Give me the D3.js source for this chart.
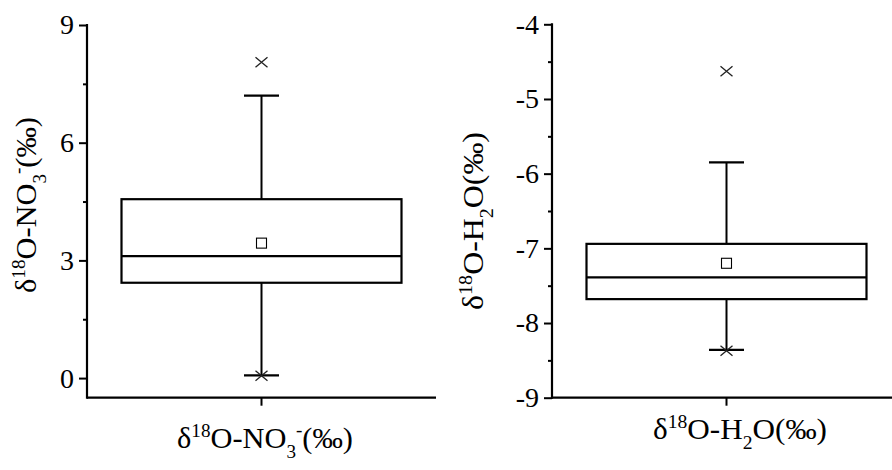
<!DOCTYPE html>
<html><head><meta charset="utf-8">
<script src="https://cdn.jsdelivr.net/npm/d3@7"></script>
</head><body style="margin:0;padding:0;background:#fff;font-family:'Liberation Serif'">
<svg id="c" width="892" height="470" style="display:block;font-family:'Liberation Serif'"></svg>
<script>
// Data
const panelNames = ["NO3", "H2O"];
const categories = [["δ18O-NO3-"], ["δ18O-H2O"]];
const boxQ1 = [2.43, -7.68];
const boxMedian = [3.11, -7.39];
const boxQ3 = [4.56, -6.94];
const whiskerLow = [0.07, -8.36];
const whiskerHigh = [7.2, -5.85];
const means = [3.44, -7.2];
const extremeMarks = [[8.05, 0.06], [-4.63, -8.37]];
const yDomains = [[-0.5, 9], [-9, -4]];
const yMajorTicks = [[0, 3, 6, 9], [-9, -8, -7, -6, -5, -4]];
const yMinorTicks = [[1.5, 4.5, 7.5], [-8.5, -7.5, -6.5, -5.5, -4.5]];

const svg = d3.select("#c");
const FF = '"Liberation Serif"';

const layout = [
  {x0: 87, x1: 436, yTop: 25, yBot: 397.7},
  {x0: 552, x1: 901, yTop: 24.3, yBot: 397.7}
];

const FS = 27, SS = 17, TICKFS = 28;
function addTitle(sel, parts) {
  parts.forEach(p => {
    const t = sel.append("tspan").text(p.t);
    if (p.small) t.style("font-size", SS + "px");
    if (p.dy) t.attr("dy", p.dy);
  });
}

const titles = [
  [{t:"δ"},{t:"18",small:true,dy:-10},{t:"O-NO",dy:10},{t:"3",small:true,dy:9},{t:"-",small:true,dy:-20},{t:"(‰)",dy:11}],
  [{t:"δ"},{t:"18",small:true,dy:-10},{t:"O-H",dy:10},{t:"2",small:true,dy:9},{t:"O(‰)",dy:-9}]
];

const yTitlePos = [{x: 36, y: 205, w: 176}, {x: 483, y: 221, w: 178}];
const xTitlePos = [{x: 265, y: 448, w: 176}, {x: 740, y: 439, w: 174}];
const SY = 1.08;

panelNames.forEach((name, i) => {
  const L = layout[i];
  const y = d3.scaleLinear().domain(yDomains[i]).range([L.yBot, L.yTop]);
  const x = d3.scaleBand().domain(categories[i]).range([L.x0, L.x1]);
  const g = svg.append("g");

  const yAx = g.append("g").attr("transform", `translate(${L.x0},0)`)
    .call(d3.axisLeft(y).tickValues(yMajorTicks[i]).tickSize(8).tickPadding(5));
  yAx.attr("font-family", null).attr("font-size", null);
  yAx.select(".domain").remove();
  yAx.selectAll(".tick line").attr("stroke", "#000").attr("stroke-width", 2);
  yAx.selectAll(".tick text").style("font-family", FF).style("font-size", TICKFS + "px").attr("fill", "#000")
    .text(d => d < 0 ? "-" + Math.abs(d) : d);
  const yMin = g.append("g").attr("transform", `translate(${L.x0},0)`)
    .call(d3.axisLeft(y).tickValues(yMinorTicks[i]).tickSize(4).tickFormat(""));
  yMin.select(".domain").remove();
  yMin.selectAll(".tick line").attr("stroke", "#000").attr("stroke-width", 2);
  g.append("line").attr("x1", L.x0).attr("x2", L.x0).attr("y1", y(yDomains[i][1]) - 1).attr("y2", L.yBot + 1)
    .attr("stroke", "#000").attr("stroke-width", 2.2);

  const xAx = g.append("g").attr("transform", `translate(0,${L.yBot})`)
    .call(d3.axisBottom(x).tickSize(8).tickFormat(""));
  xAx.select(".domain").remove();
  xAx.selectAll(".tick line").attr("stroke", "#000").attr("stroke-width", 2);
  g.append("line").attr("x1", L.x0).attr("x2", L.x1).attr("y1", L.yBot).attr("y2", L.yBot)
    .attr("stroke", "#000").attr("stroke-width", 2.2);

  const cx = x(categories[i][0]) + x.bandwidth() / 2;
  const boxW = 280, capW = 35;

  g.append("line").attr("x1", cx).attr("x2", cx).attr("y1", y(whiskerHigh[i])).attr("y2", y(boxQ3[i]))
    .attr("stroke", "#000").attr("stroke-width", 2);
  g.append("line").attr("x1", cx).attr("x2", cx).attr("y1", y(boxQ1[i])).attr("y2", y(whiskerLow[i]))
    .attr("stroke", "#000").attr("stroke-width", 2);
  [whiskerHigh[i], whiskerLow[i]].forEach(v => {
    g.append("line").attr("x1", cx - capW/2).attr("x2", cx + capW/2).attr("y1", y(v)).attr("y2", y(v))
      .attr("stroke", "#000").attr("stroke-width", 2.2);
  });
  g.append("rect").attr("x", cx - boxW/2).attr("width", boxW)
    .attr("y", y(boxQ3[i])).attr("height", y(boxQ1[i]) - y(boxQ3[i]))
    .attr("fill", "none").attr("stroke", "#000").attr("stroke-width", 2.2);
  g.append("line").attr("x1", cx - boxW/2).attr("x2", cx + boxW/2)
    .attr("y1", y(boxMedian[i])).attr("y2", y(boxMedian[i])).attr("stroke", "#000").attr("stroke-width", 2.2);
  const ms = 10;
  g.append("rect").attr("x", cx - ms/2).attr("y", y(means[i]) - ms/2).attr("width", ms).attr("height", ms)
    .attr("fill", "#fff").attr("stroke", "#000").attr("stroke-width", 1.1);
  extremeMarks[i].forEach(v => {
    const yy = y(v), hw = 6, hh = 5;
    g.append("path").attr("d", `M${cx-hw},${yy-hh}L${cx+hw},${yy+hh}M${cx-hw},${yy+hh}L${cx+hw},${yy-hh}`)
      .attr("stroke", "#222").attr("stroke-width", 1.3).attr("fill", "none");
  });

  const yt = svg.append("text").style("font-family", FF).style("font-size", FS + "px").attr("fill", "#000")
    .attr("text-anchor", "middle").attr("x", 0).attr("y", 0);
  addTitle(yt, titles[i]);
  const wy = yt.node().getBBox().width;
  yt.attr("transform", `translate(${yTitlePos[i].x},${yTitlePos[i].y}) rotate(-90) scale(${yTitlePos[i].w / wy},${SY})`);

  const xt = svg.append("text").style("font-family", FF).style("font-size", FS + "px").attr("fill", "#000")
    .attr("text-anchor", "middle").attr("x", 0).attr("y", 0);
  addTitle(xt, titles[i]);
  const wx = xt.node().getBBox().width;
  xt.attr("transform", `translate(${xTitlePos[i].x},${xTitlePos[i].y}) scale(${xTitlePos[i].w / wx},${SY})`);
});
</script>
</body></html>
